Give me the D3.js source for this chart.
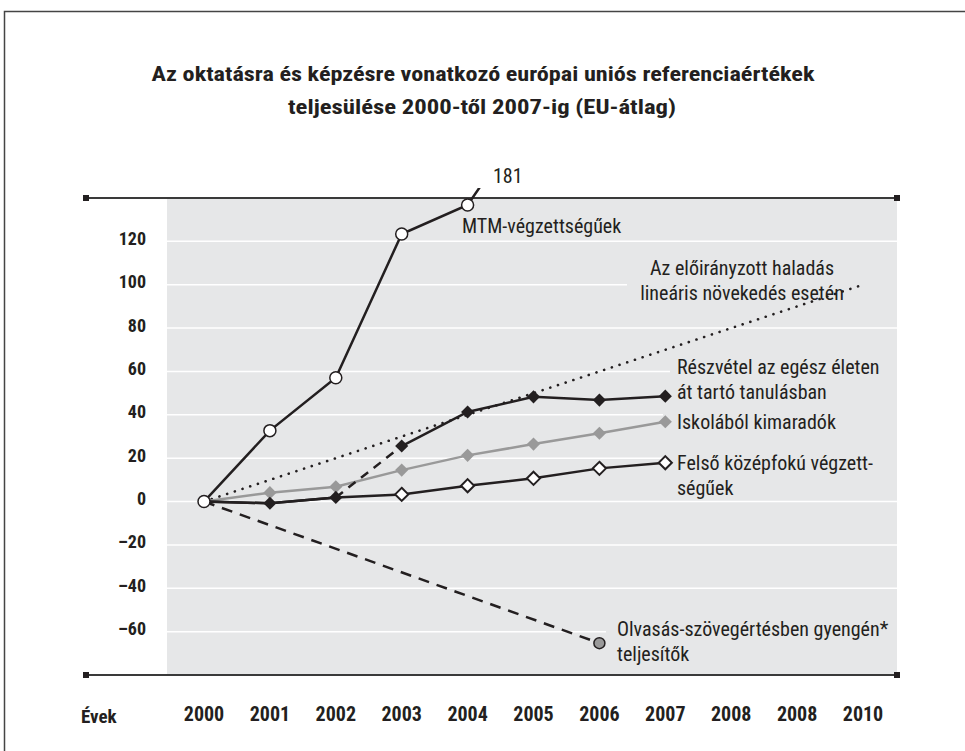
<!DOCTYPE html>
<html><head><meta charset="utf-8">
<script src="https://cdn.jsdelivr.net/npm/d3@7"></script>
<style>
html,body{margin:0;padding:0;background:#fff;}
svg{display:block;}
text{font-family:"Liberation Sans Narrow","Arial Narrow","Roboto Condensed","Liberation Sans",sans-serif;fill:#231f20;}
</style></head>
<body>
<script>
// ---- data ----
const yearLabels = ["2000","2001","2002","2003","2004","2005","2006","2007","2008","2008","2010"];
const yTicks = [-60,-40,-20,0,20,40,60,80,100,120];
const mtm = [0, 32.7, 57.1, 123.4, 136.8, 181];                 // 2000-2005
const lifelong = [0, -0.8, 1.9, 25.6, 41.3, 48.3, 46.8, 48.6];   // 2000-2007
const earlyLeavers = [0, 4.1, 6.8, 14.5, 21.3, 26.5, 31.5, 36.8];
const upperSecondary = [0, -0.8, 1.9, 3.3, 7.3, 10.7, 15.3, 17.9];
const reading = [0, -65.3];            // 2000, 2006
const readingYears = [0, 6];
const linearTarget = [0, 100];         // 2000, 2010
const linearYears = [0, 10];

const W = 965, H = 751;
const svg = d3.select("body").append("svg").attr("width", W).attr("height", H);

// frame
svg.append("rect").attr("x",4.5).attr("y",11.5).attr("width",1100).attr("height",1100)
  .attr("fill","none").attr("stroke","#444").attr("stroke-width",1.5);

// title
const title = svg.append("text").attr("text-anchor","middle").attr("font-weight","bold").attr("font-size",21);
title.append("tspan").attr("x",483).attr("y",81).attr("textLength",663).attr("lengthAdjust","spacingAndGlyphs")
  .text("Az oktatásra és képzésre vonatkozó európai uniós referenciaértékek");
title.append("tspan").attr("x",482).attr("y",114).attr("textLength",388).attr("lengthAdjust","spacingAndGlyphs")
  .text("teljesülése 2000-től 2007-ig (EU-átlag)");

const plotL = 167, plotR = 897, plotT = 198, plotB = 675;
const x = d3.scaleLinear().domain([0,10]).range([204,863]);
const y = d3.scaleLinear().domain([-80,140]).range([plotB, plotT]);

svg.append("rect").attr("x",plotL).attr("y",plotT).attr("width",plotR-plotL).attr("height",plotB-plotT).attr("fill","#e6e7e8");

// gridlines
svg.append("g").selectAll("line").data(yTicks).join("line")
  .attr("x1",plotL).attr("x2",plotR).attr("y1",d=>y(d)).attr("y2",d=>y(d))
  .attr("stroke","#fff").attr("stroke-width",1.5);

// label background patches (hide gridlines behind labels)
const patches = [[627,255,305],[670,352,405],[663,407,437],[663,450,498],[606,615,668]];
svg.append("g").selectAll("rect").data(patches).join("rect")
  .attr("x",d=>d[0]).attr("y",d=>d[1]).attr("width",d=>plotR-d[0]).attr("height",d=>d[2]-d[1]).attr("fill","#e6e7e8");

// axis lines with square ends
[plotT, plotB].forEach(yy=>{
  svg.append("line").attr("x1",86).attr("x2",897).attr("y1",yy).attr("y2",yy).attr("stroke","#3a3a3a").attr("stroke-width",2);
  svg.append("rect").attr("x",83).attr("y",yy-3).attr("width",6).attr("height",6).attr("fill","#231f20");
  svg.append("rect").attr("x",894).attr("y",yy-3).attr("width",6).attr("height",6).attr("fill","#231f20");
});

// y tick labels
svg.append("g").selectAll("text").data(yTicks).join("text")
  .attr("x",146).attr("y",d=>y(d)+3.5).attr("text-anchor","end").attr("font-weight","bold").attr("font-size",18)
  .text(d=>d<0 ? "–"+Math.abs(d) : String(d));

// x tick labels
svg.append("g").selectAll("text").data(yearLabels).join("text")
  .attr("x",(d,i)=>x(i)).attr("y",721).attr("text-anchor","middle").attr("font-weight","bold").attr("font-size",20)
  .text(d=>d);
svg.append("text").attr("x",81).attr("y",723).attr("font-size",19).attr("font-weight","bold").text("Évek");

// clip for MTM
svg.append("clipPath").attr("id","clipTop").append("rect").attr("x",plotL).attr("y",188).attr("width",plotR-plotL).attr("height",plotB-188);

const line = d3.line().x(d=>x(d[0])).y(d=>y(d[1]));
const pairs = (arr, idx) => arr.map((v,i)=>[idx?idx[i]:i, v]);
const ink = "#231f20";

// linear target dotted
svg.append("path").attr("d",line(pairs(linearTarget, linearYears))).attr("fill","none")
  .attr("stroke",ink).attr("stroke-width",2.6).attr("stroke-dasharray","0.1 8").attr("stroke-linecap","round");
// early leavers grey
svg.append("path").attr("d",line(pairs(earlyLeavers))).attr("fill","none").attr("stroke","#999").attr("stroke-width",2.5);
// upper secondary
svg.append("path").attr("d",line(pairs(upperSecondary))).attr("fill","none").attr("stroke",ink).attr("stroke-width",2.5);
// lifelong: solid 2000-2002, dashed 2002-2003, solid 2003-2007
const ll = pairs(lifelong);
svg.append("path").attr("d",line(ll.slice(0,3))).attr("fill","none").attr("stroke",ink).attr("stroke-width",2.5);
svg.append("path").attr("d",line(ll.slice(2,4))).attr("fill","none").attr("stroke",ink).attr("stroke-width",2.5).attr("stroke-dasharray","9 7");
svg.append("path").attr("d",line(ll.slice(3))).attr("fill","none").attr("stroke",ink).attr("stroke-width",2.5);
// reading dashed
svg.append("path").attr("d",line(pairs(reading, readingYears))).attr("fill","none").attr("stroke",ink).attr("stroke-width",2.5).attr("stroke-dasharray","11 8");
// MTM
svg.append("path").attr("d",line(pairs(mtm))).attr("fill","none").attr("stroke",ink).attr("stroke-width",2.5).attr("clip-path","url(#clipTop)");

// markers
const diamond = d3.symbol().type(d3.symbolDiamond2).size(110);
svg.append("g").selectAll("path").data(pairs(earlyLeavers).slice(1)).join("path")
  .attr("d",diamond).attr("transform",d=>`translate(${x(d[0])},${y(d[1])})`).attr("fill","#999");
svg.append("g").selectAll("path").data(pairs(upperSecondary).slice(3)).join("path")
  .attr("d",diamond).attr("transform",d=>`translate(${x(d[0])},${y(d[1])})`).attr("fill","#fff").attr("stroke",ink).attr("stroke-width",2);
svg.append("g").selectAll("path").data(ll.slice(1)).join("path")
  .attr("d",diamond).attr("transform",d=>`translate(${x(d[0])},${y(d[1])})`).attr("fill",ink);
svg.append("circle").attr("cx",x(readingYears[1])).attr("cy",y(reading[1])).attr("r",5.5).attr("fill","#999").attr("stroke",ink).attr("stroke-width",1.5);
svg.append("g").selectAll("circle").data(pairs(mtm).slice(0,5)).join("circle")
  .attr("cx",d=>x(d[0])).attr("cy",d=>y(d[1])).attr("r",6).attr("fill","#fff").attr("stroke",ink).attr("stroke-width",1.5);

// series labels
const lab = (xx, yy, lines, anchor) => {
  const t = svg.append("text").attr("font-size",20).attr("text-anchor",anchor||"start");
  lines.forEach((s,i)=>t.append("tspan").attr("x",xx).attr("y",yy+i*25).text(s));
};
lab(493,183,["181"]);
lab(462,233,["MTM-végzettségűek"]);
lab(742,275,["Az előirányzott haladás","lineáris növekedés esetén"],"middle");
lab(677,374,["Részvétel az egész életen","át tartó tanulásban"]);
lab(677,429,["Iskolából kimaradók"]);
lab(677,470,["Felső középfokú végzett-","ségűek"]);
lab(617,636,["Olvasás-szövegértésben gyengén*","teljesítők"]);
</script>
</body></html>
